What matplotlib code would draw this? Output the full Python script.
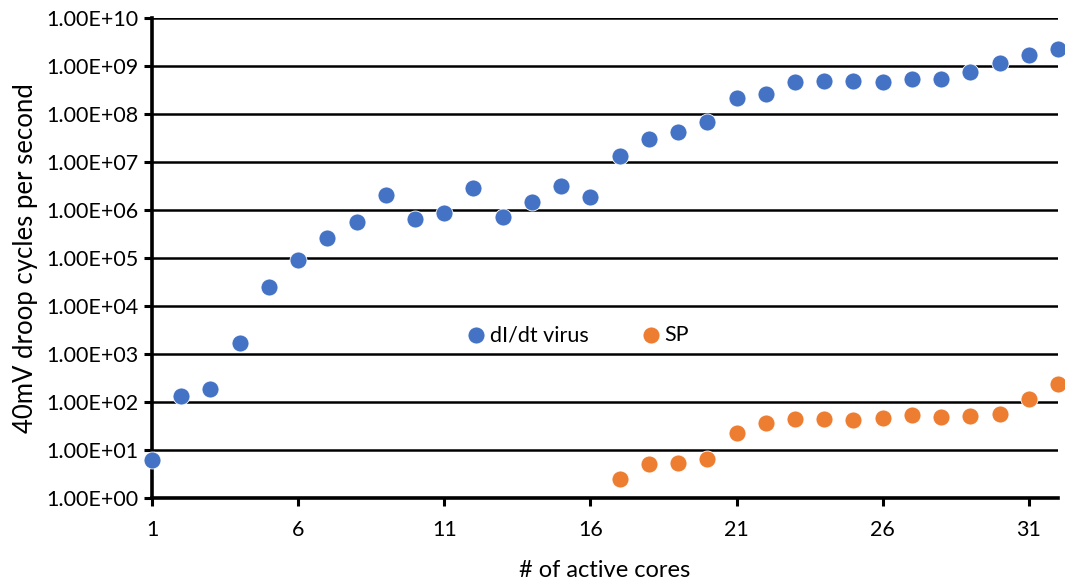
import matplotlib
matplotlib.use("Agg")
import matplotlib.pyplot as plt
from matplotlib.ticker import FixedLocator, FuncFormatter

plt.rcParams['font.family'] = ['Lato', 'DejaVu Sans']

# Active core counts
cores = list(range(1, 33))
sp_cores = list(range(17, 33))

# 40mV droop cycles per second
didt_virus = [6.2, 135, 183, 1670, 24500, 91000, 265000, 560000, 2.05e6, 6.5e5,
              8.8e5, 2.9e6, 7.3e5, 1.5e6, 3.2e6, 1.9e6, 1.35e7, 2.96e7, 4.3e7, 6.9e7,
              2.19e8, 2.57e8, 4.7e8, 4.9e8, 4.9e8, 4.7e8, 5.3e8, 5.3e8, 7.4e8, 1.18e9,
              1.66e9, 2.3e9]
sp = [2.45, 5.1, 5.35, 6.4, 22.9, 37, 45, 43.6, 42, 45.7, 52.7, 48, 51.7, 55, 113, 234]

x_ticks = [1, 6, 11, 16, 21, 26, 31]
y_ticks = [10.0 ** k for k in range(0, 11)]

BLUE = '#4472C4'
ORANGE = '#ED7D31'

fig = plt.figure(figsize=(10.65, 5.82), dpi=100)
ax = fig.add_axes([152 / 1065, 1 - 498 / 582, (1058 - 152) / 1065, (498 - 18) / 582])

ax.set_yscale('log')
ax.set_xlim(1, 32)
ax.set_ylim(1, 1e10)

ax.scatter(cores, didt_virus, s=150, color=BLUE, edgecolors='white', linewidths=0.6,
           label='dI/dt virus', zorder=3, clip_on=False)
ax.scatter(sp_cores, sp, s=150, color=ORANGE, edgecolors='white', linewidths=0.6,
           label='SP', zorder=3, clip_on=False)

ax.yaxis.set_major_locator(FixedLocator(y_ticks))
ax.yaxis.set_minor_locator(FixedLocator([]))
ax.yaxis.set_major_formatter(FuncFormatter(lambda v, p: f"{v:.2E}"))
ax.xaxis.set_major_locator(FixedLocator(x_ticks))
ax.xaxis.set_minor_locator(FixedLocator([]))

ax.grid(axis='y', color='black', linewidth=1.8, zorder=1)
ax.set_axisbelow(True)

for side in ('top', 'right'):
    ax.spines[side].set_visible(False)
for side in ('left', 'bottom'):
    ax.spines[side].set_linewidth(2.6)
    ax.spines[side].set_color('black')

ax.tick_params(axis='both', direction='out', width=2.2, length=6, labelsize=15.5,
               colors='black', pad=4)
ax.tick_params(axis='x', pad=10)

ax.set_xlabel('# of active cores', fontsize=17, labelpad=14)
ax.set_ylabel('40mV droop cycles per second', fontsize=18.5, labelpad=6)

leg = ax.legend(loc='center', bbox_to_anchor=(577 / 1065, 1 - 335 / 582),
                bbox_transform=fig.transFigure, ncol=2, frameon=False,
                fontsize=15.5, handlelength=1.0, handletextpad=0.15,
                columnspacing=2.4, markerscale=1.0)

fig.savefig('out.png', dpi=100)
